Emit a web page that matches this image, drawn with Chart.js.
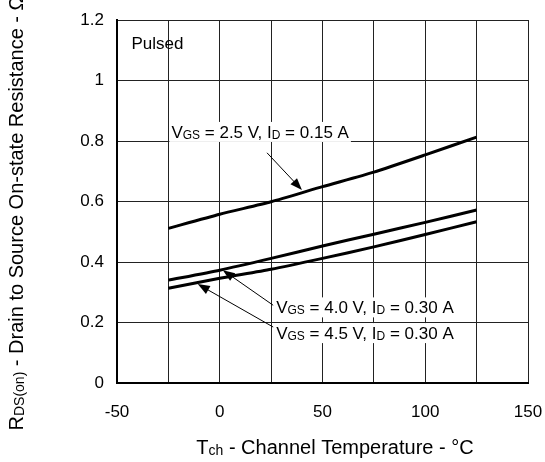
<!DOCTYPE html>
<html>
<head>
<meta charset="utf-8">
<script src="https://cdn.jsdelivr.net/npm/chart.js@4"></script>
<style>
  html,body{margin:0;padding:0;background:#fff;}
  #wrap{width:545px;height:462px;}
</style>
</head>
<body>
<div id="wrap"><canvas id="rds"></canvas></div>
<script>
const temps=[-25,0,25,50,75,100,125]
const vgs25=[0.511,0.558,0.599,0.649,0.697,0.754,0.813]
const vgs40=[0.340,0.373,0.412,0.453,0.492,0.531,0.572]
const vgs45=[0.313,0.346,0.376,0.412,0.450,0.491,0.533]
const xTicks=[-50,0,50,100,150]
const yTicks=[0,0.2,0.4,0.6,0.8,1,1.2]

const FONT="'Liberation Sans', Arial, sans-serif"

// label text: [text, subscript?]
const notes=[
  {x:-25,y:0.83,parts:[["V"],["GS",1],[" = 2.5 V, I"],["D",1],[" = 0.15 A"]]},
  {x:26,y:0.25,parts:[["V"],["GS",1],[" = 4.0 V, I"],["D",1],[" = 0.30 A"]]},
  {x:26,y:0.165,parts:[["V"],["GS",1],[" = 4.5 V, I"],["D",1],[" = 0.30 A"]]},
]
const arrows=[
  [23,0.761,40,0.638],
  [26,0.257,1.5,0.373],
  [26,0.185,-10.7,0.327],
]

function measureParts(c,parts,size){
  let w=0
  parts.forEach(p=>{c.font=(p[1]?Math.round(size*0.7):size)+"px "+FONT;w+=c.measureText(p[0]).width})
  return w
}
function drawParts(c,parts,x,y,size,align){
  const w=measureParts(c,parts,size)
  let cx=align==="center"?x-w/2:x
  c.textBaseline="alphabetic"
  c.textAlign="left"
  parts.forEach(p=>{
    c.font=(p[1]?Math.round(size*0.7):size)+"px "+FONT
    c.fillText(p[0],cx,p[1]?y+1:y)
    cx+=c.measureText(p[0]).width
  })
  return w
}

const extras={
  id:"extras",
  afterDatasetsDraw(chart){
    const c=chart.ctx, xs=chart.scales.x, ys=chart.scales.y
    c.save()
    c.fillStyle="#000"
    c.font="17px "+FONT
    c.textBaseline="middle"
    c.fillText("Pulsed",xs.getPixelForValue(-43),ys.getPixelForValue(1.12))
    // arrows
    c.strokeStyle="#000"
    c.lineWidth=1
    arrows.forEach(a=>{
      const x1=xs.getPixelForValue(a[0]),y1=ys.getPixelForValue(a[1])
      const x2=xs.getPixelForValue(a[2]),y2=ys.getPixelForValue(a[3])
      const ang=Math.atan2(y2-y1,x2-x1)
      c.beginPath();c.moveTo(x1,y1);c.lineTo(x2-Math.cos(ang)*8,y2-Math.sin(ang)*8);c.stroke()
      c.beginPath()
      c.moveTo(x2,y2)
      c.lineTo(x2-Math.cos(ang)*12+Math.sin(ang)*4.5,y2-Math.sin(ang)*12-Math.cos(ang)*4.5)
      c.lineTo(x2-Math.cos(ang)*12-Math.sin(ang)*4.5,y2-Math.sin(ang)*12+Math.cos(ang)*4.5)
      c.closePath();c.fill()
    })
    // labels with white boxes
    notes.forEach(n=>{
      const x=xs.getPixelForValue(n.x),y=ys.getPixelForValue(n.y)
      const w=measureParts(c,n.parts,17)
      c.fillStyle="#fff"
      c.fillRect(x+1,y-10,w+4,20)
      c.fillStyle="#000"
      drawParts(c,n.parts,x+3,y+6,17,"left")
    })
    c.restore()
  },
  afterDraw(chart){
    const c=chart.ctx
    c.save()
    c.fillStyle="#000"
    drawParts(c,[["T"],["ch",1],[" - Channel Temperature - °C"]],335,454,20,"center")
    c.translate(23,213)
    c.rotate(-Math.PI/2)
    drawParts(c,[["R"],["DS(on)",1],[" - Drain to Source On-state Resistance - Ω"]],0,0,20,"center")
    c.restore()
  }
}

const line=(d)=>({
  data:d.map((v,i)=>({x:temps[i],y:v})),
  borderColor:"#000",
  borderWidth:3,
  pointRadius:0,
  tension:0.2,
  fill:false,
})

new Chart(document.getElementById("rds"),{
  type:"line",
  data:{
    datasets:[line(vgs25),line(vgs40),line(vgs45)]
  },
  plugins:[extras],
  options:{
    responsive:true,
    maintainAspectRatio:false,
    animation:false,
    events:[],
    layout:{padding:{left:0,top:20,right:17,bottom:0}},
    plugins:{
      legend:{display:false},
      tooltip:{enabled:false},
    },
    scales:{
      x:{
        type:"linear",
        min:-50,max:150,
        afterFit:s=>{s.height=79;s.paddingLeft=0;s.paddingRight=0},
        border:{color:"#000",width:2},
        grid:{color:"#222",lineWidth:1,drawTicks:false},
        ticks:{
          stepSize:25,
          padding:19,
          color:"#000",
          font:{family:FONT,size:17},
          maxRotation:0,
          autoSkip:false,
          callback:v=>xTicks.includes(v)?String(v):"",
        },
      },
      y:{
        min:0,max:1.2,
        afterFit:s=>{s.width=117;s.paddingTop=0;s.paddingBottom=0},
        border:{color:"#000",width:2},
        grid:{color:"#222",lineWidth:1,drawTicks:false},
        ticks:{
          stepSize:0.2,
          padding:13,
          color:"#000",
          font:{family:FONT,size:17},
          callback:v=>{const t=yTicks.find(k=>Math.abs(k-v)<1e-6);return t===undefined?"":String(t)},
        },
      },
    },
  },
})
</script>
</body>
</html>
